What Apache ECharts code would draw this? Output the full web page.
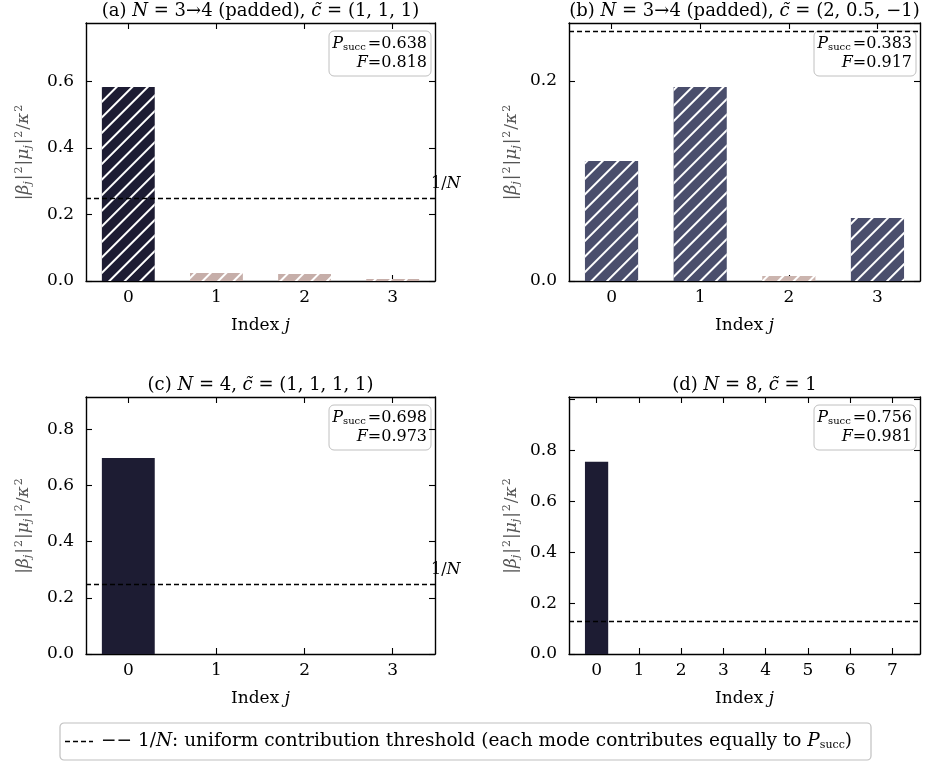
<!DOCTYPE html>
<html><head><meta charset="utf-8">
<script src="https://cdn.jsdelivr.net/npm/echarts@6/dist/echarts.min.js"></script>
<style>html,body{margin:0;padding:0;background:#fff}#c{width:930px;height:763px}</style>
</head><body><div id="c"></div>
<script>
// ---- data ----
const catsA = ['0','1','2','3'];
const catsB = ['0','1','2','3'];
const catsC = ['0','1','2','3'];
const catsD = ['0','1','2','3','4','5','6','7'];
const valsA = [0.583, 0.024, 0.021, 0.006];
const valsB = [0.120, 0.194, 0.005, 0.063];
const valsC = [0.698, 0, 0, 0];
const valsD = [0.756, 0, 0, 0, 0, 0, 0, 0];
const thresholds = [0.25, 0.25, 0.25, 0.125];
const yMaxes = [0.775, 0.258, 0.915, 1.01];
const pSucc = ['0.638', '0.383', '0.698', '0.756'];
const fidel = ['0.818', '0.917', '0.973', '0.981'];
const colorsA = ['#1d1c33', '#c6aea9', '#c6aea9', '#c6aea9'];
const colorsB = ['#4a4e6c', '#4a4e6c', '#cbb4ae', '#4a4e6c'];
const colorsC = ['#1d1c33', '#1d1c33', '#1d1c33', '#1d1c33'];
const colorsD = ['#1d1c33', '#1d1c33', '#1d1c33', '#1d1c33', '#1d1c33', '#1d1c33', '#1d1c33', '#1d1c33'];
const titles = [
  ['(a) ', 'N', ' = 3→4 (padded), ', 'c̃', ' = (1, 1, 1)'],
  ['(b) ', 'N', ' = 3→4 (padded), ', 'c̃', ' = (2, 0.5, −1)'],
  ['(c) ', 'N', ' = 4, ', 'c̃', ' = (1, 1, 1, 1)'],
  ['(d) ', 'N', ' = 8, ', 'c̃', ' = 1']
];

const SERIF = '"DejaVu Serif", serif';
const grids = [
  {left: 86, top: 23, width: 349, height: 258},
  {left: 569, top: 23, width: 351, height: 258},
  {left: 86, top: 397, width: 349, height: 257},
  {left: 569, top: 397, width: 351, height: 257}
];
const panels = [
  {cats: catsA, vals: valsA, colors: colorsA, hatch: true, ygap: 52, w: 0.6},
  {cats: catsB, vals: valsB, colors: colorsB, hatch: true, ygap: 47, w: 0.6},
  {cats: catsC, vals: valsC, colors: colorsC, hatch: false, ygap: 52, w: 0.6},
  {cats: catsD, vals: valsD, colors: colorsD, hatch: false, ygap: 47, w: 0.55}
];

const tickStyle = {inside: true, length: 6, lineStyle: {color: '#000', width: 1.1}};
const lineStyle = {show: true, onZero: false, lineStyle: {color: '#000', width: 1.4}};
const decal = {symbol: 'rect', dashArrayX: [1, 0], dashArrayY: [2, 9], rotation: -Math.PI / 4, color: '#ffffff', symbolSize: 1};

const xAxes = [], yAxes = [], series = [], graphics = [];
panels.forEach((p, i) => {
  const n = p.cats.length;
  const span = (n - 1) + p.w;
  const xmin = -p.w / 2 - 0.05 * span;
  const xmax = (n - 1) + p.w / 2 + 0.05 * span;
  const idx = p.cats.map((c, k) => k);
  xAxes.push({
    type: 'value', gridIndex: i, position: 'bottom', min: xmin, max: xmax,
    splitLine: {show: false},
    axisLine: lineStyle, axisTick: Object.assign({customValues: idx}, tickStyle),
    axisLabel: {customValues: idx, formatter: v => p.cats[Math.round(v)],
      color: '#000', fontFamily: SERIF, fontSize: 17, margin: 8},
    name: '{r|Index }{i|j}', nameLocation: 'middle', nameGap: 36,
    nameTextStyle: {rich: {
      r: {fontFamily: SERIF, fontSize: 17, color: '#000'},
      i: {fontFamily: SERIF, fontSize: 17, color: '#000', fontStyle: 'italic'}
    }}
  });
  xAxes.push({
    type: 'value', gridIndex: i, position: 'top', min: xmin, max: xmax,
    splitLine: {show: false},
    axisLine: lineStyle, axisTick: Object.assign({customValues: idx}, tickStyle),
    axisLabel: {show: false}
  });
  const yr = {fontFamily: SERIF, fontSize: 17, color: '#555'};
  yAxes.push({
    type: 'value', gridIndex: i, min: 0, max: yMaxes[i], interval: 0.2, position: 'left',
    splitLine: {show: false}, axisLine: lineStyle, axisTick: tickStyle,
    axisLabel: {color: '#000', fontFamily: SERIF, fontSize: 17, margin: 12, showMaxLabel: false,
      formatter: v => (v > 0.95 ? '' : v.toFixed(1))},
    name: '{t||}{i|β}{s|j}{t||}{p|2}{t||}{i|μ}{s|j}{t||}{p|2}{t|/}{i|κ}{p|2}',
    nameLocation: 'middle', nameRotate: 90, nameGap: p.ygap,
    nameTextStyle: {rich: {
      t: yr,
      i: Object.assign({}, yr, {fontStyle: 'italic'}),
      s: Object.assign({}, yr, {fontSize: 11, fontStyle: 'italic', padding: [10, 1, 0, 0]}),
      p: Object.assign({}, yr, {fontSize: 11, padding: [0, 1, 9, 1]})
    }}
  });
  yAxes.push({
    type: 'value', gridIndex: i, min: 0, max: yMaxes[i], interval: 0.2, position: 'right',
    splitLine: {show: false}, axisLine: lineStyle, axisTick: tickStyle,
    axisLabel: {show: false}
  });
  series.push({
    type: 'bar', xAxisIndex: 2 * i, yAxisIndex: 2 * i, barWidth: (p.w * 100) + '%',
    data: p.vals.map((v, k) => ({
      value: [k, v],
      itemStyle: Object.assign({color: p.colors[k], borderWidth: 0},
        p.hatch ? {decal: decal} : {})
    })),
    markLine: {
      silent: true, symbol: 'none', label: {show: false},
      lineStyle: {color: '#000', type: [5, 3], width: 1.3},
      data: [{yAxis: thresholds[i]}]
    }
  });
  const g = grids[i];
  const t = titles[i];
  const ts = {fontFamily: SERIF, fontSize: 18, color: '#000'};
  graphics.push({
    type: 'text', x: g.left + g.width / 2, y: g.top - 12,
    style: {
      text: '{r|' + t[0] + '}{i|' + t[1] + '}{r|' + t[2] + '}{i|' + t[3] + '}{r|' + t[4] + '}',
      align: 'center', verticalAlign: 'middle',
      rich: {r: ts, i: Object.assign({}, ts, {fontStyle: 'italic'})}
    }
  });
  const bx = g.left + g.width - 106, by = g.top + 8;
  const as = {fontFamily: SERIF, fontSize: 16, color: '#000'};
  graphics.push({
    type: 'group', x: bx, y: by, children: [
      {type: 'rect', shape: {x: 0, y: 0, width: 102, height: 45, r: 5},
       style: {fill: '#fff', stroke: '#c0c0c0', lineWidth: 1}},
      {type: 'text', x: 98, y: 3, style: {
        text: '{i|P}{s|succ}{n|=0.' + pSucc[i].slice(2) + '}\n{i|F}{n|=0.' + fidel[i].slice(2) + '}',
        align: 'right', verticalAlign: 'top', lineHeight: 19,
        rich: {
          n: Object.assign({}, as, {lineHeight: 19}),
          i: Object.assign({}, as, {fontStyle: 'italic', lineHeight: 19}),
          s: Object.assign({}, as, {fontSize: 10, lineHeight: 19, padding: [7, 2, 0, 0]})
        }
      }}
    ]
  });
});

// legend box
const ls = {fontFamily: SERIF, fontSize: 18.5, color: '#000'};
graphics.push({
  type: 'group', x: 60, y: 723, children: [
    {type: 'rect', shape: {x: 0, y: 0, width: 811, height: 37, r: 4},
     style: {fill: '#fff', stroke: '#c0c0c0', lineWidth: 1.2}},
    {type: 'line', shape: {x1: 5, y1: 18.5, x2: 33, y2: 18.5},
     style: {stroke: '#000', lineWidth: 1.3, lineDash: [5, 3]}},
    {type: 'text', x: 41, y: 18.5, style: {
      text: '{r|−− 1/}{i|N}{r|: uniform contribution threshold (each mode contributes equally to }{i|P}{s|succ}{r|)}',
      align: 'left', verticalAlign: 'middle',
      rich: {r: ls, i: Object.assign({}, ls, {fontStyle: 'italic'}),
             s: Object.assign({}, ls, {fontSize: 11, padding: [8, 0, 0, 0]})}
    }}
  ]
});

const chart = echarts.init(document.getElementById('c'), null, {renderer: 'canvas'});
chart.setOption({
  animation: false,
  backgroundColor: '#fff',
  grid: grids.map(g => Object.assign({containLabel: false}, g)),
  xAxis: xAxes, yAxis: yAxes, series: series, graphic: graphics
});

// "1/N" label beside the threshold line in panels (a) and (c)
const extra = [];
[0, 2].forEach(i => {
  const y = chart.convertToPixel({yAxisIndex: 2 * i}, thresholds[i]);
  const g = grids[i];
  const s = {fontFamily: SERIF, fontSize: 16, color: '#000'};
  extra.push({
    type: 'text', x: g.left + g.width - 4, y: y - 14,
    style: {text: '{r|1/}{i|N}', align: 'left', verticalAlign: 'middle',
      rich: {r: s, i: Object.assign({}, s, {fontStyle: 'italic'})}}
  });
});
chart.setOption({graphic: graphics.concat(extra)});
</script></body></html>
